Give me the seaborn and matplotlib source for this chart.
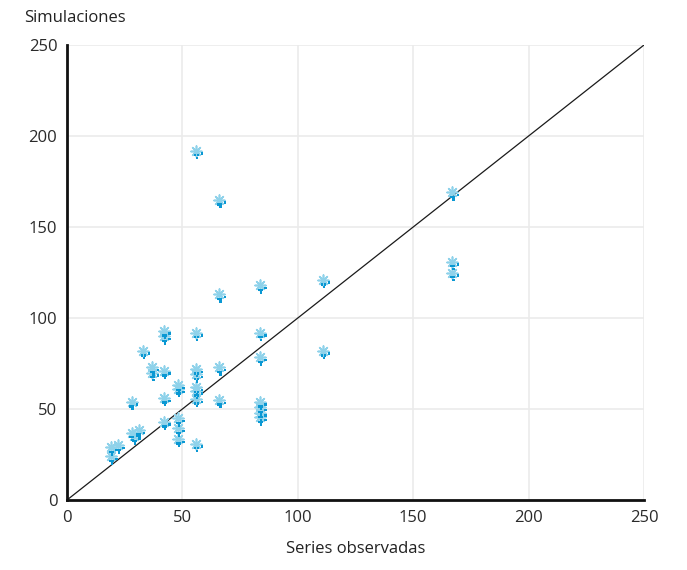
import numpy as np
import pandas as pd
import seaborn as sns
import matplotlib
matplotlib.use("Agg")
import matplotlib.pyplot as plt
from matplotlib.path import Path

observed = [19, 22, 19, 28, 28, 31, 29, 33, 37, 37, 42, 42, 42, 42, 42,
            48, 48, 48, 48, 48, 56, 56, 56, 56, 56, 56, 56, 56,
            66, 66, 66, 66, 83.5, 83.5, 83.5, 83.5, 83.5, 83.5, 83.5, 111, 111, 167, 167, 167]
simulated = [29, 30, 24, 54, 37, 38.5, 35, 82, 73, 70, 93, 90, 71, 56, 43,
             63, 61, 45, 39.5, 33.5, 192, 92, 72, 69, 62, 60, 55.5, 31,
             165, 113, 73, 55, 118, 92, 78.5, 54, 51, 48, 45.5, 121, 82, 169, 131, 125]
ticks = [0, 50, 100, 150, 200, 250]

df = pd.DataFrame({"obs": observed, "sim": simulated})

sns.set_theme(style="white")
plt.rcParams["font.family"] = ["Open Sans", "DejaVu Sans"]

fig = plt.figure(figsize=(6.87, 5.70), dpi=100)
ax = fig.add_axes([67 / 687, 70 / 570, 577 / 687, 455 / 570])

# dark-blue sub-marker built from small squares (pixel offsets from star centre)
def squares_path(centers, h=1.2):
    verts, codes = [], []
    for cx, cy in centers:
        verts += [(cx - h, cy - h), (cx + h, cy - h), (cx + h, cy + h), (cx - h, cy + h), (cx - h, cy - h)]
        codes += [Path.MOVETO, Path.LINETO, Path.LINETO, Path.LINETO, Path.CLOSEPOLY]
    # symmetric bounding points so the marker stays centred
    verts += [(-9, -9), (-9, -9), (9, 9), (9, 9)]
    codes += [Path.MOVETO, Path.LINETO, Path.MOVETO, Path.LINETO]
    return Path(verts, codes)

dark_marker = squares_path([(-1.0, -4.6), (1.6, -4.6), (5.6, -2.8), (1.0, -7.2)])

ax.grid(True, color="#ebebeb", linewidth=1.2)
ax.set_axisbelow(True)

ax.plot([0, 250], [0, 250], color="#1a1a1a", linewidth=0.9, zorder=2)

sns.scatterplot(data=df, x="obs", y="sim", ax=ax, marker=(8, 2, 0), s=60,
                color="#8fd2ea", edgecolor="#8fd2ea", linewidth=1.2, zorder=3)
sns.scatterplot(data=df, x="obs", y="sim", ax=ax, marker=dark_marker, s=(18 * 0.72) ** 2,
                color="#0a98d3", edgecolor="none", linewidth=0, zorder=4)

ax.set_xlim(0, 250)
ax.set_ylim(0, 250)
ax.set_xticks(ticks)
ax.set_yticks(ticks)
ax.tick_params(axis="both", length=0, labelsize=12, colors="#2a2a2a", pad=7)
for s in ["top", "right"]:
    ax.spines[s].set_visible(False)
for s in ["left", "bottom"]:
    ax.spines[s].set_color("#111111")
    ax.spines[s].set_linewidth(2)

ax.set_xlabel("Series observadas", fontsize=12, color="#222222", labelpad=11)
ax.set_ylabel("")
fig.text(24 / 687, 1 - 18 / 570, "Simulaciones", fontsize=12, color="#222222",
         ha="left", va="center")

fig.savefig("out.png", dpi=100)
